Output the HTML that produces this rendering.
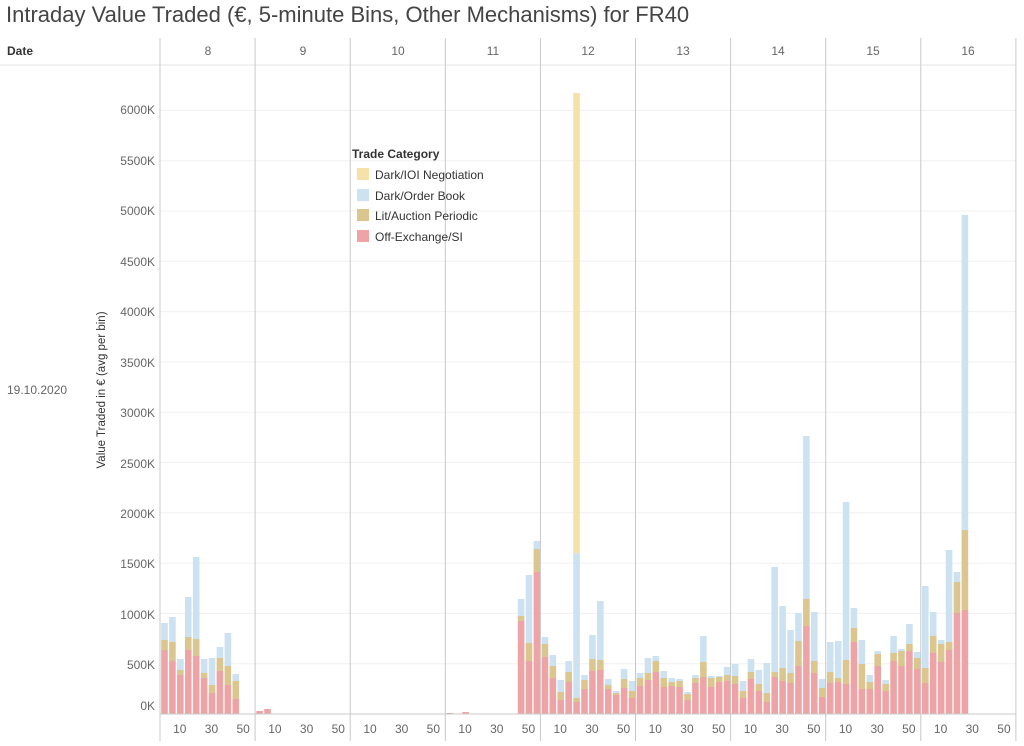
<!DOCTYPE html>
<html><head><meta charset="utf-8"><style>
body{margin:0;background:#fff;font-family:"Liberation Sans",sans-serif;}
svg text{font-family:"Liberation Sans",sans-serif;}
</style></head><body>
<svg id="s" width="1024" height="741" xmlns="http://www.w3.org/2000/svg">
<rect width="1024" height="741" fill="#fff"/>
<text x="6" y="22" font-size="22" fill="#444">Intraday Value Traded (€, 5-minute Bins, Other Mechanisms) for FR40</text>
<text x="7" y="55" font-size="12" font-weight="bold" fill="#333">Date</text>
<g font-size="12" fill="#666" text-anchor="middle">
<text x="208" y="55">8</text><text x="303" y="55">9</text><text x="398" y="55">10</text><text x="493" y="55">11</text><text x="588" y="55">12</text><text x="683" y="55">13</text><text x="778" y="55">14</text><text x="873" y="55">15</text><text x="968" y="55">16</text>
</g>
<line x1="0" y1="65" x2="1016" y2="65" stroke="#e6e6e6"/>
<text x="7" y="394" font-size="12" fill="#666">19.10.2020</text>
<text transform="translate(105,390) rotate(-90)" font-size="11.5" fill="#333" text-anchor="middle">Value Traded in € (avg per bin)</text>
<g id="grid" stroke="#f0f0f0"></g>
<g id="ylab" font-size="12" fill="#666" text-anchor="end">
<text x="155" y="710">0K</text><text x="155" y="669">500K</text><text x="155" y="619">1000K</text><text x="155" y="568">1500K</text><text x="155" y="518">2000K</text><text x="155" y="468">2500K</text><text x="155" y="417">3000K</text><text x="155" y="367">3500K</text><text x="155" y="316">4000K</text><text x="155" y="266">4500K</text><text x="155" y="215">5000K</text><text x="155" y="165">5500K</text><text x="155" y="114">6000K</text>
</g>
<g id="bars"></g>
<g id="sep" stroke="#c8c8c8"></g>
<line x1="160" y1="714" x2="1016" y2="714" stroke="#c8c8c8"/>
<g id="xl" font-size="12" fill="#666" text-anchor="middle"></g>
<g font-size="12" fill="#333">
<text x="352" y="158" font-weight="bold">Trade Category</text>
<rect x="357" y="168" width="12" height="12" fill="#f6e2a8"/><text x="375" y="179">Dark/IOI Negotiation</text>
<rect x="357" y="189" width="12" height="12" fill="#cde2f1"/><text x="375" y="200">Dark/Order Book</text>
<rect x="357" y="209" width="12" height="12" fill="#dcc690"/><text x="375" y="220">Lit/Auction Periodic</text>
<rect x="357" y="230" width="12" height="12" fill="#eea4a6"/><text x="375" y="241">Off-Exchange/SI</text>
</g>
</svg>
<script>
var NS="http://www.w3.org/2000/svg";
function el(p,t,a){var e=document.createElementNS(NS,t);for(var k in a)e.setAttribute(k,a[k]);p.appendChild(e);return e;}
var g=document.getElementById("grid");
for(var i=1;i<=12;i++){var y=714-i*50.3;el(g,"line",{x1:160,x2:1016,y1:y,y2:y});}
var sep=document.getElementById("sep");
for(var h=0;h<=9;h++){var x=160+h*95.1;el(sep,"line",{x1:x,x2:x,y1:38,y2:741});}
var xl=document.getElementById("xl");
for(var h=0;h<9;h++){[2,6,10].forEach(function(b,j){var t=el(xl,"text",{x:160+h*95.1+(b+0.5)*7.92,y:733});t.textContent=["10","30","50"][j];});}
var D=[
[0,0,650,640,623],[0,1,661,642,617],[0,2,675,670,659],[0,3,650,637,597],[0,4,656,639,557],[0,5,678,673,659],[0,6,693,685,658],[0,7,671,658,647],[0,8,685,666,633],[0,9,699,681,674],
[1,0,711,711,711],[1,1,709,709,709],
[3,0,713,713,713],[3,2,712,712,712],[3,9,621,616,599],[3,10,661,643,575],[3,11,572,549,541],
[4,0,657,644,637],[4,1,678,666,655],[4,2,700,692,680],[4,3,682,672,661],[4,4,702,698,553,93],[4,5,689,680,675],[4,6,671,659,635],[4,7,670,660,601],[4,8,689,685,679],[4,9,695,693,691],[4,10,688,679,669],[4,11,698,691,681],
[5,0,686,678,673],[5,1,680,673,658],[5,2,672,661,656],[5,3,687,678,671],[5,4,686,682,678],[5,5,687,681,679],[5,6,700,694,692],[5,7,683,678,675],[5,8,677,662,636],[5,9,687,678,676],[5,10,682,677,676],[5,11,681,675,667],
[6,0,684,676,664],[6,1,698,691,681],[6,2,679,672,659],[6,3,691,684,670],[6,4,702,693,663],[6,5,677,672,567],[6,6,681,668,606],[6,7,683,673,630],[6,8,666,641,613],[6,9,626,599,436],[6,10,673,661,612],[6,11,697,688,679],
[7,0,683,672,642],[7,1,682,678,641],[7,2,684,660,502],[7,3,642,628,608],[7,4,689,664,640],[7,5,689,682,675],[7,6,666,654,651],[7,7,691,684,680],[7,8,661,653,636],[7,9,666,651,649],[7,10,651,644,624],[7,11,669,658,652],
[8,0,683,668,586],[8,1,653,636,612],[8,2,662,644,640],[8,3,650,642,550],[8,4,613,582,572],[8,5,610,530,215]
];
var B=document.getElementById("bars");
D.forEach(function(d){
 var x=160+d[0]*95.1+d[1]*7.92+1.2,w=6.6,base=714;
 var segs=[[d[2],base,"#eea4a6"],[d[3],d[2],"#dcc690"],[d[4],d[3],"#cde2f1"]];
 if(d[5])segs.push([d[5],d[4],"#f6e2a8"]);
 segs.forEach(function(s){if(s[1]-s[0]>0)el(B,"rect",{x:x,y:s[0],width:w,height:s[1]-s[0],fill:s[2]});});
});
</script>
</body></html>
